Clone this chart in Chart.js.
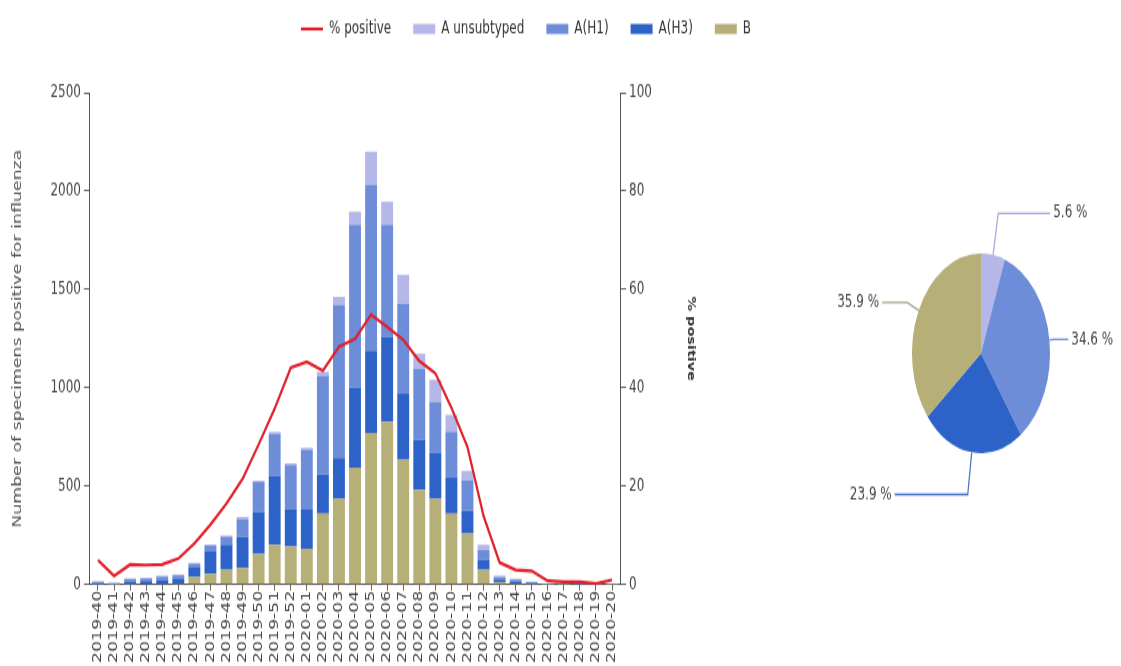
<!DOCTYPE html>
<html>
<head>
<meta charset="utf-8">
<script src="https://cdn.jsdelivr.net/npm/chart.js@4.4.1/dist/chart.umd.min.js"></script>
<style>
  html, body { margin: 0; padding: 0; background: #fff; }
  #wrap { position: relative; width: 1121px; height: 666px; overflow: hidden; }
  #barchart { position: absolute; left: 0; top: 0; }
  #piechart { position: absolute; left: 790px; top: 0; }
</style>
</head>
<body>
<div id="wrap">
  <!-- drawn at 460px tall and stretched to 666px, like the squashed original -->
  <canvas id="barchart" width="1052" height="460" style="width:1052px;height:666px"></canvas>
  <canvas id="piechart" width="331" height="460" style="width:331px;height:666px"></canvas>
</div>
<script>
// weeks
const weeks = ['2019-40','2019-41','2019-42','2019-43','2019-44','2019-45','2019-46','2019-47','2019-48',
  '2019-49','2019-50','2019-51','2019-52','2020-01','2020-02','2020-03','2020-04','2020-05','2020-06',
  '2020-07','2020-08','2020-09','2020-10','2020-11','2020-12','2020-13','2020-14','2020-15','2020-16',
  '2020-17','2020-18','2020-19','2020-20'];

// specimens positive per week, by type
const bValues     = [3, 1, 3, 4, 5, 6, 40, 56, 76, 86, 157, 203, 193, 183, 361, 437, 594, 772, 828, 635, 483, 437, 362, 261, 76, 12, 6, 3, 1, 1, 0, 0, 1];
const h3Values    = [4, 5, 14, 15, 20, 22, 48, 112, 127, 158, 214, 351, 193, 198, 198, 208, 407, 417, 432, 335, 254, 235, 182, 115, 51, 14, 8, 4, 1, 1, 1, 0, 0];
const h1Values    = [8, 3, 12, 13, 17, 20, 20, 30, 40, 90, 152, 213, 222, 305, 503, 777, 828, 843, 569, 457, 362, 258, 233, 152, 51, 14, 12, 6, 2, 1, 1, 1, 1];
const unsubValues = [3, 1, 3, 3, 4, 4, 4, 7, 8, 10, 5, 10, 8, 10, 20, 41, 66, 168, 117, 148, 76, 111, 87, 51, 25, 6, 4, 2, 1, 0, 0, 0, 0];

// % of specimens positive
const pctPositive = [5.0, 1.8, 4.1, 4.0, 4.1, 5.3, 8.4, 12.2, 16.5, 21.5, 28.5, 35.8, 44.1, 45.3, 43.5, 48.4, 50.0, 54.9, 52.4, 49.8, 45.5, 43.0, 36.0, 28.0, 14.0, 4.5, 3.0, 2.8, 0.8, 0.6, 0.6, 0.2, 1.0];

// season totals for the pie
const pieLabels = ['A unsubtyped', 'A(H1)', 'A(H3)', 'B'];
const pieShares = [5.6, 34.6, 23.9, 35.9];

const colUnsub = '#b5b7e8';
const colH1 = '#6d8dd8';
const colH3 = '#2d63c8';
const colB = '#b6af78';
const colLine = '#e0202b';

Chart.defaults.font.family = "'DejaVu Sans', sans-serif";
Chart.defaults.font.size = 12;
Chart.defaults.color = '#444';

const legendRank = {'% positive': 0, 'A unsubtyped': 1, 'A(H1)': 2, 'A(H3)': 3, 'B': 4};

// more room under the legend
const legendGap = {
  id: 'legendGap',
  beforeInit(chart) {
    const fit = chart.legend.fit;
    chart.legend.fit = function () { fit.call(this); this.height += 28; };
  }
};

const plainTick = v => String(v);

const barCtx = document.getElementById('barchart').getContext('2d');
new Chart(barCtx, {
  type: 'bar',
  data: {
    labels: weeks,
    datasets: [
      { type: 'line', label: '% positive', data: pctPositive, yAxisID: 'y1', borderColor: colLine,
        backgroundColor: colLine, borderWidth: 2.2, pointRadius: 0, tension: 0, fill: false, pointStyle: 'line' },
      { label: 'B', data: bValues, backgroundColor: colB, pointStyle: 'rect' },
      { label: 'A(H3)', data: h3Values, backgroundColor: colH3, pointStyle: 'rect' },
      { label: 'A(H1)', data: h1Values, backgroundColor: colH1, pointStyle: 'rect' },
      { label: 'A unsubtyped', data: unsubValues, backgroundColor: colUnsub, pointStyle: 'rect' }
    ]
  },
  options: {
    responsive: false,
    animation: false,
    devicePixelRatio: 1,
    layout: { padding: { top: -8, bottom: 2 } },
    datasets: { bar: { barPercentage: 0.74, categoryPercentage: 1, borderWidth: 0 } },
    plugins: {
      legend: {
        labels: {
          usePointStyle: true, pointStyleWidth: 22, boxHeight: 7, padding: 22, color: '#333',
          sort: (a, b) => legendRank[a.text] - legendRank[b.text]
        }
      },
      tooltip: { enabled: false }
    },
    scales: {
      x: {
        stacked: true,
        grid: { offset: false, drawOnChartArea: false, tickLength: 4, color: '#666' },
        border: { color: '#555' },
        ticks: { autoSkip: false, maxRotation: 90, minRotation: 90, padding: 0, color: '#444' }
      },
      y: {
        stacked: true, min: 0, max: 2500,
        ticks: { stepSize: 500, padding: 3, color: '#444', callback: plainTick },
        grid: { drawOnChartArea: false, tickLength: 6, color: '#666' },
        border: { color: '#555' },
        title: { display: true, text: 'Number of specimens positive for influenza', color: '#555',
          padding: { top: 11, bottom: 22 } }
      },
      y1: {
        position: 'right', min: 0, max: 100,
        ticks: { stepSize: 20, padding: 3, color: '#444', callback: plainTick },
        grid: { drawOnChartArea: false, tickLength: 6, color: '#666' },
        border: { color: '#555' },
        title: { display: true, text: '% positive', color: '#333', font: { size: 10, weight: 'bold' },
          padding: { top: 2, bottom: 30 } }
      },
      spacer: {
        type: 'linear', position: 'right', weight: 5,
        grid: { display: false }, border: { display: false }, ticks: { display: false },
        afterFit(scale) { scale.width = 353; }
      }
    }
  },
  plugins: [legendGap]
});

// pie labels with leader lines
const calloutArm = [52, 15, 73, 25];
const calloutColors = ['#a9abdf', '#7d93d6', '#4f78cc', '#a8a48c'];
const pieCallouts = {
  id: 'pieCallouts',
  afterDatasetsDraw(chart) {
    const ctx = chart.ctx;
    const meta = chart.getDatasetMeta(0);
    meta.data.forEach((arc, i) => {
      const p = arc.getProps(['x', 'y', 'startAngle', 'endAngle', 'outerRadius']);
      const mid = (p.startAngle + p.endAngle) / 2;
      const c = Math.cos(mid), s = Math.sin(mid);
      const k = 1 + 0.43 * Math.abs(s);
      const ex = p.x + p.outerRadius * k * c, ey = p.y + p.outerRadius * k * s;
      const dir = c >= 0 ? 1 : -1;
      const tx = ex + dir * calloutArm[i];
      ctx.save();
      ctx.strokeStyle = calloutColors[i];
      ctx.lineWidth = 1.3;
      ctx.beginPath();
      ctx.moveTo(p.x + p.outerRadius * c, p.y + p.outerRadius * s);
      ctx.lineTo(ex, ey);
      ctx.lineTo(tx, ey);
      ctx.stroke();
      ctx.fillStyle = '#444';
      ctx.font = "12px 'DejaVu Sans', sans-serif";
      ctx.textAlign = dir > 0 ? 'left' : 'right';
      ctx.textBaseline = 'middle';
      ctx.fillText(pieShares[i].toFixed(1) + ' %', tx + dir * 3, ey);
      ctx.restore();
    });
  }
};

const pieCtx = document.getElementById('piechart').getContext('2d');
new Chart(pieCtx, {
  type: 'pie',
  data: {
    labels: pieLabels,
    datasets: [{ data: pieShares, backgroundColor: [colUnsub, colH1, colH3, colB], borderWidth: 0 }]
  },
  options: {
    responsive: false,
    animation: false,
    devicePixelRatio: 1,
    layout: { padding: { left: 122, right: 71, top: 175, bottom: 147 } },
    plugins: { legend: { display: false }, tooltip: { enabled: false } }
  },
  plugins: [pieCallouts]
});
</script>
</body>
</html>
